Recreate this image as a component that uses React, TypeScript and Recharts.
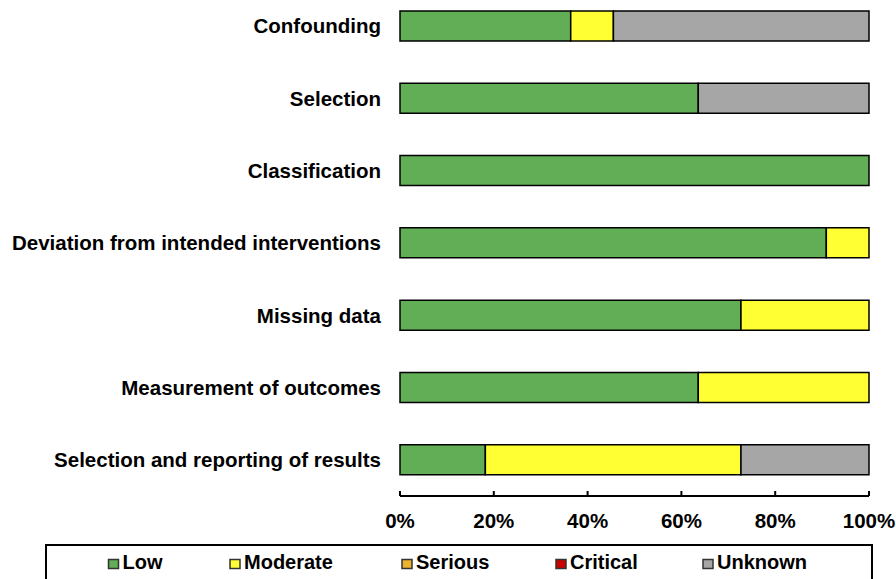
import React from "react";
import { BarChart, Bar, XAxis, YAxis, Legend } from "recharts";

const categories = [
  "Confounding",
  "Selection",
  "Classification",
  "Deviation from intended interventions",
  "Missing data",
  "Measurement of outcomes",
  "Selection and reporting of results",
];
const low = [36.4, 63.6, 100, 90.9, 72.7, 63.6, 18.2];
const moderate = [9.1, 0, 0, 9.1, 27.3, 36.4, 54.5];
const serious = [0, 0, 0, 0, 0, 0, 0];
const critical = [0, 0, 0, 0, 0, 0, 0];
const unknown = [54.5, 36.4, 0, 0, 0, 0, 27.3];
const xTicks = [0, 20, 40, 60, 80, 100];

const seriesNames = ["Low", "Moderate", "Serious", "Critical", "Unknown"];
const seriesKeys = ["low", "moderate", "serious", "critical", "unknown"];
const colors = ["#62AE56", "#FFFF33", "#EDB32C", "#CC0000", "#A6A6A6"];

const data = categories.map((name, i) => ({
  name,
  low: low[i],
  moderate: moderate[i],
  serious: serious[i],
  critical: critical[i],
  unknown: unknown[i],
}));

const FONT = "'Liberation Sans', Arial, sans-serif";

const XTick = (props: any) => {
  const { x, y, payload } = props;
  return (
    <g>
      <line x1={x} x2={x} y1={y - 5} y2={y} stroke="#000" strokeWidth={2} />
      <text
        x={x}
        y={y + 32}
        textAnchor="middle"
        fontSize={20.5}
        fontWeight="bold"
        fontFamily={FONT}
        fill="#000"
      >
        {payload.value + "%"}
      </text>
    </g>
  );
};

const legendSquareX = [63.5, 185, 357, 511, 658];

const LegendBox = () => (
  <svg width={828} height={40} style={{ display: "block", overflow: "hidden" }}>
    <rect x={1} y={1} width={826} height={60} fill="#fff" stroke="#000" strokeWidth={2} />
    {seriesNames.map((n, i) => (
      <g key={n}>
        <rect
          x={legendSquareX[i]}
          y={15.5}
          width={10}
          height={9}
          fill={colors[i]}
          stroke="#333"
          strokeWidth={1.5}
        />
        <text
          x={legendSquareX[i] + 14}
          y={25}
          fontSize={20}
          fontWeight="bold"
          fontFamily={FONT}
          fill="#000"
        >
          {n}
        </text>
      </g>
    ))}
  </svg>
);

export default function App() {
  return (
    <div style={{ position: "absolute", left: 0, top: 0, width: 896, height: 579, background: "#fff" }}>
      <BarChart
        width={896}
        height={579}
        data={data}
        layout="vertical"
        margin={{ top: -10, right: 27, left: 0, bottom: 13 }}
        barSize={30}
      >
        <XAxis
          type="number"
          domain={[0, 100]}
          ticks={xTicks}
          interval={0}
          tickLine={false}
          tickSize={0}
          tickMargin={0}
          height={30}
          axisLine={{ stroke: "#000", strokeWidth: 2 }}
          tick={<XTick />}
        />
        <YAxis
          type="category"
          dataKey="name"
          width={400}
          axisLine={false}
          tickLine={false}
          tickSize={0}
          tickMargin={19}
          interval={0}
          tick={{ fontSize: 20.5, fontWeight: "bold", fontFamily: FONT, fill: "#000" }}
        />
        <Legend
          content={<LegendBox />}
          wrapperStyle={{ left: 45, top: 544, bottom: "auto", width: 828, height: 40 }}
        />
        {seriesKeys.map((k, i) => (
          <Bar
            key={k}
            dataKey={k}
            name={seriesNames[i]}
            stackId="a"
            fill={colors[i]}
            stroke="#000"
            strokeWidth={1.5}
            isAnimationActive={false}
          />
        ))}
      </BarChart>
    </div>
  );
}
